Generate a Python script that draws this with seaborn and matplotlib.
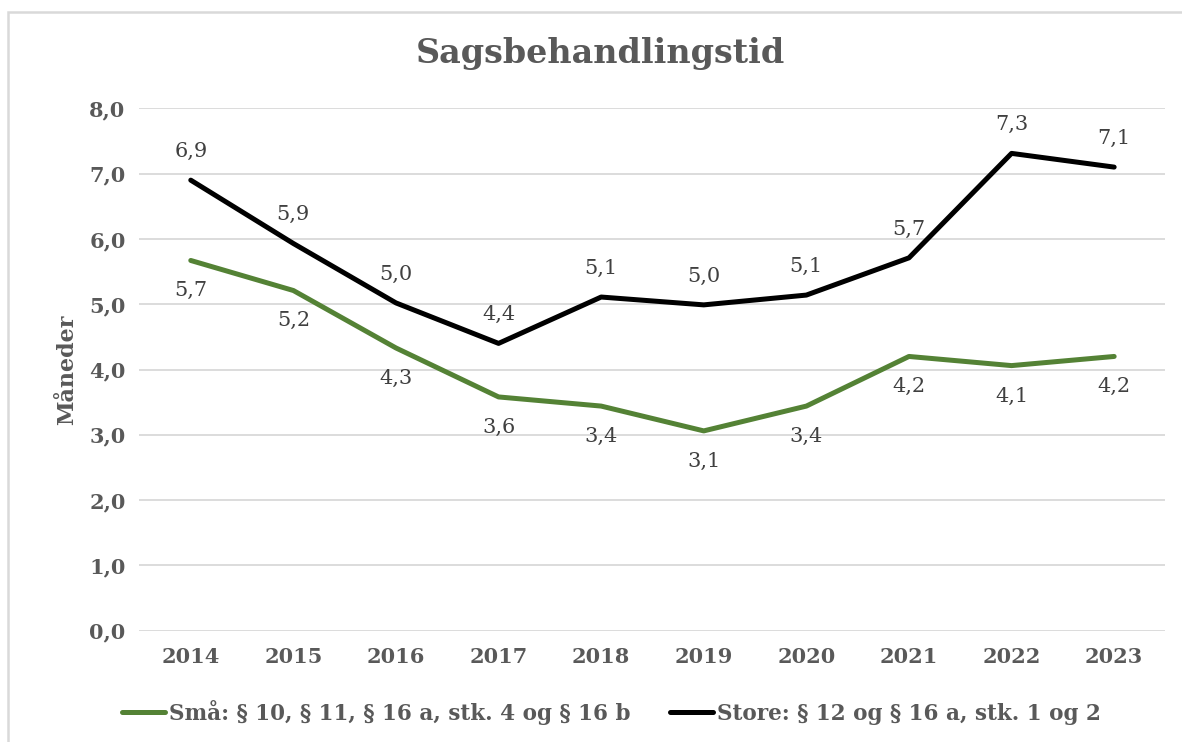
import pandas as pd
import numpy as np
import matplotlib
matplotlib.use('Agg')
import matplotlib.pyplot as plt
import seaborn as sns
from matplotlib.patches import Rectangle

# data
aar = ['2014', '2015', '2016', '2017', '2018', '2019', '2020', '2021', '2022', '2023']
smaa = [5.67, 5.21, 4.33, 3.58, 3.44, 3.06, 3.44, 4.20, 4.06, 4.20]
store = [6.90, 5.93, 5.02, 4.40, 5.11, 4.99, 5.14, 5.71, 7.31, 7.10]
navn_smaa = 'Små: § 10, § 11, § 16 a, stk. 4 og § 16 b'
navn_store = 'Store: § 12 og § 16 a, stk. 1 og 2'

df = pd.DataFrame({
    'aar': aar * 2,
    'maaneder': smaa + store,
    'gruppe': [navn_smaa] * len(aar) + [navn_store] * len(aar),
})

sns.set_theme(style='white')
plt.rcParams['font.family'] = ['DejaVu Serif']
graa = '#595959'

fig = plt.figure(figsize=(11.82, 7.42), dpi=100)
ax = fig.add_axes([0.118, 0.150, 0.868, 0.704])

sns.lineplot(data=df, x='aar', y='maaneder', hue='gruppe', ax=ax,
             palette={navn_smaa: '#548235', navn_store: '#000000'},
             linewidth=3.6, legend=True)

ax.set_ylim(0, 8)
ax.set_xlim(-0.5, 9.5)
ax.set_yticks(np.arange(0, 9, 1))
ax.set_yticklabels([f'{v:.1f}'.replace('.', ',') for v in np.arange(0, 9, 1)])
ax.grid(axis='y', color='#d9d9d9', linewidth=1.3)
ax.grid(axis='x', visible=False)
for s in ax.spines.values():
    s.set_visible(False)
ax.tick_params(axis='x', length=0, labelsize=15, labelcolor=graa, pad=12)
ax.tick_params(axis='y', length=0, labelsize=15, labelcolor=graa, pad=10)
for t in ax.get_xticklabels() + ax.get_yticklabels():
    t.set_fontweight('bold')
ax.set_xlabel('')
ax.set_ylabel('Måneder', fontsize=16, fontweight='bold', color=graa, labelpad=8)
ax.set_axisbelow(True)

# datalabels
for i, v in enumerate(store):
    ax.annotate(f'{v:.1f}'.replace('.', ','), (i, v), xytext=(0, 14),
                textcoords='offset points', ha='center', va='bottom',
                fontsize=15, color='#404040')
for i, v in enumerate(smaa):
    ax.annotate(f'{v:.1f}'.replace('.', ','), (i, v), xytext=(0, -15),
                textcoords='offset points', ha='center', va='top',
                fontsize=15, color='#404040')

fig.suptitle('Sagsbehandlingstid', x=0.508, y=0.95, fontsize=24,
             fontweight='bold', color=graa)

leg = ax.legend(loc='upper center', bbox_to_anchor=(0.46, -0.095), ncol=2,
                frameon=False, fontsize=15.5, handlelength=2.0,
                handletextpad=0.2, columnspacing=1.8)
for t in leg.get_texts():
    t.set_color(graa)
    t.set_fontweight('bold')

# ramme om diagrammet (kun top og venstre kant synlig)
fig.patches.append(Rectangle((8 / 1182, -20 / 742), 1200 / 1182, 750 / 742,
                             transform=fig.transFigure, fill=False,
                             edgecolor='#d9d9d9', linewidth=1.8))

fig.savefig('out.png', dpi=100)
